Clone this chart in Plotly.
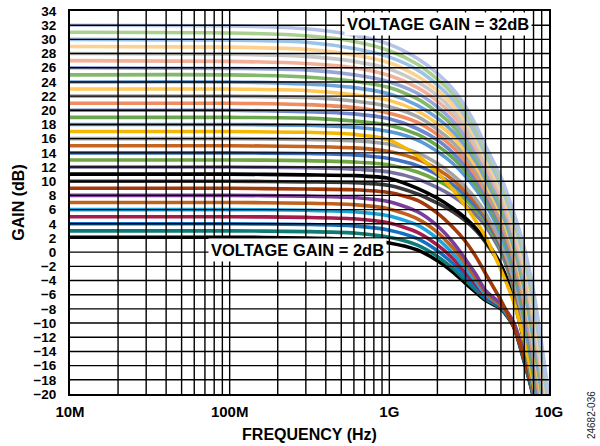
import plotly.graph_objects as go

# Frequency grid (Hz)
FREQ_HZ = [1e7, 1e8, 3e8, 6e8, 1e9, 1.5e9, 2e9, 2.5e9, 3e9, 3.5e9, 4e9, 5e9, 6e9, 7e9, 8e9, 9e9, 1e10]

# Gain curves (dB), one per voltage-gain setting
G32 = [32, 31.9, 31.5, 30.6, 29.3, 27.3, 25.2, 23, 20.5, 17.8, 15, 10.6, 5.6, 0.6, -5.5, -13, -20.5]
G31 = [31, 30.9, 30.5, 29.7, 28.4, 26.5, 24.4, 22.3, 19.8, 17.2, 14.4, 10, 5, -0.1, -6.4, -13.9, -21.3]
G30 = [30, 29.9, 29.6, 28.7, 27.5, 25.7, 23.6, 21.5, 19.1, 16.5, 13.8, 9.4, 4.4, -0.8, -7.2, -14.7, -22]
G29 = [29, 28.9, 28.6, 27.8, 26.7, 24.8, 22.8, 20.8, 18.4, 15.9, 13.2, 8.8, 3.8, -1.6, -8.1, -15.6, -22.8]
G28 = [28, 27.9, 27.6, 26.9, 25.8, 24, 22.1, 20, 17.7, 15.2, 12.7, 8.3, 3.2, -2.3, -8.9, -16.4, -23.5]
G27 = [27, 26.9, 26.6, 26, 24.9, 23.2, 21.3, 19.3, 17, 14.6, 12.1, 7.7, 2.6, -3, -9.8, -17.3, -24.3]
G26 = [26, 25.9, 25.7, 25, 24, 22.4, 20.5, 18.5, 16.3, 13.9, 11.5, 7.1, 2, -3.7, -10.6, -18.1, -25]
G25 = [25, 25, 24.7, 24.1, 23.2, 21.6, 19.7, 17.8, 15.6, 13.3, 10.9, 6.5, 1.4, -4.5, -11.5, -19, -25.8]
G24 = [24, 24, 23.7, 23.2, 22.3, 20.7, 18.9, 17, 14.9, 12.7, 10.3, 5.9, 0.8, -5.2, -12.4, -19.9, -26.5]
G23 = [23, 23, 22.8, 22.2, 21.4, 19.9, 18.1, 16.3, 14.2, 12, 9.7, 5.3, 0.2, -5.9, -13.2, -20.7, -27.3]
G22 = [22, 22, 21.8, 21.3, 20.5, 19.1, 17.3, 15.5, 13.5, 11.4, 9.1, 4.7, -0.4, -6.6, -14.1, -21.6, -28]
G21 = [21, 21, 20.8, 20.4, 19.6, 18.3, 16.6, 14.8, 12.8, 10.7, 8.6, 4.2, -1, -7.3, -14.9, -22.4, -28.8]
G20 = [20, 20, 19.8, 19.5, 18.8, 17.4, 15.8, 14, 12.1, 10.1, 8, 3.6, -1.6, -8.1, -15.8, -23.3, -29.5]
G19 = [19, 19, 18.9, 18.5, 17.9, 16.6, 15, 13.3, 11.4, 9.4, 7.4, 3, -2.2, -8.8, -16.6, -24.1, -30.3]
G18 = [18, 18, 17.9, 17.6, 17, 15.8, 14.2, 12.5, 10.7, 8.8, 6.8, 2.4, -2.8, -9.5, -17.5, -25, -31]
G17 = [17, 17, 16.9, 16.6, 15.8, 13.6, 11.2, 8.8, 6.5, 4.3, 2.2, -2.5, -7, -12.5, -18.5, -25, -31]
G16 = [16, 16, 15.9, 15.7, 15.2, 14, 12.5, 10.9, 9.2, 7.4, 5.5, 1.3, -3.8, -10.5, -18.5, -26, -32]
G15 = [15, 15, 14.9, 14.7, 14.2, 13.1, 11.7, 10.2, 8.6, 6.9, 5.1, 1, -4.2, -11, -19, -26, -32]
G14 = [14, 14, 13.9, 13.7, 13.2, 12.2, 10.9, 9.5, 8, 6.4, 4.7, 0.7, -4.5, -11.5, -19.5, -26, -32]
G13 = [13, 13, 12.9, 12.7, 12.3, 11.3, 10.1, 8.8, 7.4, 5.9, 4.3, 0.4, -4.8, -12, -19.8, -26, -32]
G12 = [12, 12, 11.9, 11.7, 11.3, 10.3, 9.1, 7.9, 6.6, 5.2, 3.7, 0, -5.2, -12.3, -19.9, -26, -32]
G11 = [11, 11, 10.9, 10.8, 10.4, 9, 7.6, 6.2, 4.8, 3.3, 1.7, -1.8, -6.5, -12.5, -18.5, -25, -31]
G10 = [10, 10, 9.9, 9.8, 9.4, 8.2, 6.9, 5.7, 4.4, 3, 1.4, -2, -6.7, -12.7, -18.7, -25, -31]
G9 = [9, 9, 8.9, 8.8, 8.4, 7.3, 5.5, 3.5, 1.5, -0.7, -3, -6.8, -10.5, -15, -20, -26, -31]
G8 = [8, 8, 7.9, 7.7, 7.1, 5.7, 3.7, 1.4, -1, -3.2, -5.4, -7.3, -9.9, -14.5, -19.5, -26, -31]
G7 = [7, 7, 6.9, 6.7, 6.1, 4.7, 2.8, 0.6, -1.6, -3.7, -5.7, -7.5, -10, -14.6, -19.6, -26, -31]
G6 = [6, 6, 5.9, 5.7, 5.1, 3.8, 1.9, -0.2, -2.3, -4.2, -6, -7.6, -10.1, -14.8, -19.8, -26, -31]
G5 = [5, 5, 4.9, 4.7, 4.1, 2.8, 1, -0.9, -2.9, -4.6, -6.2, -7.7, -10.2, -15, -20, -26, -31]
G4 = [4, 4, 3.9, 3.7, 3.1, 1.9, 0.2, -1.6, -3.4, -5, -6.4, -7.8, -10.3, -15.2, -20.2, -26, -31]
G3 = [3, 3, 2.9, 2.7, 2.1, 1, -0.6, -2.3, -4, -5.4, -6.6, -7.9, -10.4, -15.4, -20.4, -26, -31]
G2 = [2.1, 2.1, 2, 1.8, 1.3, 0.3, -1.2, -2.8, -4.4, -5.7, -6.8, -8, -10.5, -15.5, -20.5, -26, -31]

CURVES = [
    (G2, "#000000"), (G3, "#0e7c74"), (G4, "#1172c0"), (G5, "#a51d4d"),
    (G6, "#1ca7dc"), (G7, "#c0611d"), (G8, "#7b3f99"), (G9, "#a23a0a"),
    (G10, "#3a3a3a"), (G11, "#000000"), (G12, "#76719f"), (G13, "#70a844"),
    (G14, "#4472c4"), (G15, "#c5651f"), (G16, "#a5a5a5"), (G17, "#f5b800"),
    (G18, "#5a9bd5"), (G19, "#6aa84f"), (G20, "#6f87cc"), (G21, "#f08c5f"),
    (G22, "#a8a8a8"), (G23, "#ffc857"), (G24, "#6fa5dc"), (G25, "#84b86a"),
    (G26, "#97a8d8"), (G27, "#f4b19a"), (G28, "#c9c9c9"), (G29, "#fdd28f"),
    (G30, "#9dc3e6"), (G31, "#a9d08e"), (G32, "#b4c3e6"),
]

X_TICKS = [1e7, 1e8, 1e9, 1e10]
X_TICK_TEXT = ["10M", "100M", "1G", "10G"]
X_MINOR = [m * 10 ** e for e in (7, 8, 9) for m in range(2, 10)]
Y_GRID = list(range(-18, 34, 2))

FONT = "Liberation Sans, Arial, sans-serif"

fig = go.Figure()
for g, c in CURVES:
    fig.add_trace(go.Scatter(
        x=FREQ_HZ, y=g, mode="lines",
        line=dict(color=c, width=3.6, shape="spline", smoothing=0.7),
        showlegend=False, hoverinfo="skip"))

# grid drawn above the curves, as in the original
shapes = []
for v in X_MINOR + X_TICKS[1:3]:
    shapes.append(dict(type="line", xref="x", yref="paper", x0=v, x1=v, y0=0, y1=1,
                       line=dict(color="black", width=1.4), layer="above"))
for v in Y_GRID:
    shapes.append(dict(type="line", xref="paper", yref="y", x0=0, x1=1, y0=v, y1=v,
                       line=dict(color="black", width=1.4), layer="above"))

fig.update_layout(
    width=600, height=446,
    margin=dict(l=70, r=51, t=11, b=52, autoexpand=False),
    paper_bgcolor="white", plot_bgcolor="white",
    font=dict(family=FONT, color="black"),
    shapes=shapes,
    hovermode=False,
    xaxis=dict(
        type="log", range=[7, 10], automargin=False,
        tickvals=X_TICKS, ticktext=X_TICK_TEXT,
        showgrid=False, zeroline=False,
        showline=True, linecolor="black", linewidth=2, mirror=True,
        ticks="", ticklabelstandoff=3, ticklabeloverflow="allow",
        tickfont=dict(family=FONT, size=15, weight="bold"),
        title=dict(text="FREQUENCY (Hz)", font=dict(family=FONT, size=16, weight="bold"), standoff=10),
    ),
    yaxis=dict(
        range=[-20, 34], tick0=0, dtick=2, automargin=False,
        showgrid=False, zeroline=False,
        showline=True, linecolor="black", linewidth=2, mirror=True,
        ticks="", ticklabelstandoff=9, ticklabeloverflow="allow",
        tickfont=dict(family=FONT, size=13.5, weight="bold"),
        title=dict(text="GAIN (dB)", font=dict(family=FONT, size=16, weight="bold"), standoff=5),
    ),
    annotations=[
        dict(text="VOLTAGE GAIN = 32dB", xref="paper", yref="paper", x=0.768, y=0.965,
             xanchor="center", yanchor="middle",
             showarrow=False, bgcolor="white", borderpad=2,
             font=dict(family=FONT, size=16.5, weight="bold")),
        dict(text="VOLTAGE GAIN = 2dB", xref="paper", yref="paper", x=0.474, y=0.376,
             xanchor="center", yanchor="middle",
             showarrow=False, bgcolor="white", borderpad=2,
             font=dict(family=FONT, size=16.5, weight="bold")),
        dict(text="24682-036", xref="paper", yref="paper", x=1.0877, y=-0.055,
             xanchor="center", yanchor="middle",
             textangle=-90, showarrow=False,
             font=dict(family=FONT, size=10, color="#222222")),
    ],
)

# remove the page's default body margin so the figure fills the window exactly
fig.write_html("out.html", config={"displayModeBar": False, "staticPlot": True},
               post_script="document.body.style.margin='0';")
